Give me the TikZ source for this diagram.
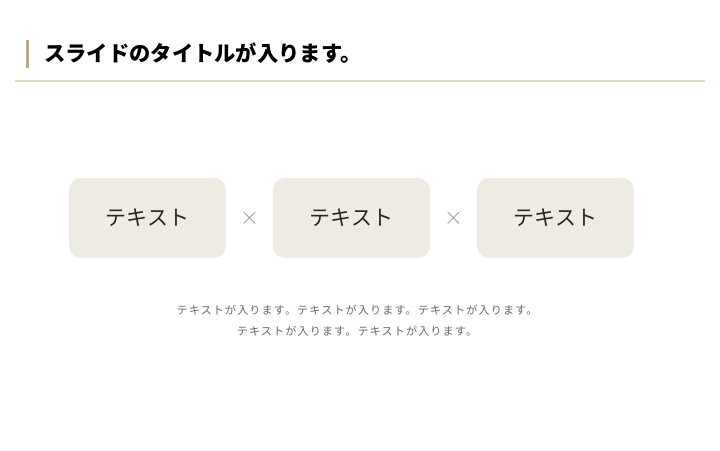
\documentclass[tikz,border=0pt]{standalone}
\usepackage{fontspec}
\usepackage{xcolor}
\setmainfont{Noto Sans CJK JP}
\newfontfamily\jpfont{Noto Sans CJK JP}
\newfontfamily\jpnote[LetterSpace=10]{Noto Sans CJK JP}
\definecolor{barTan}{HTML}{B9AB8C}
\definecolor{ruleBeige}{HTML}{DDD8C8}
\definecolor{boxFill}{HTML}{EEEBE3}
\definecolor{crossGray}{HTML}{9A9A9A}
\definecolor{noteGray}{HTML}{666666}

\begin{document}
\begin{tikzpicture}[x=1pt,y=1pt,node distance=102pt,
    item/.style={rectangle,rounded corners=12pt,fill=boxFill,minimum width=157pt,
      minimum height=80pt,inner sep=0pt,font=\jpfont\fontsize{21}{25}\selectfont,text=black!85},
    times/.style={inner sep=0pt,font=\fontsize{30}{30}\selectfont,text=crossGray}]
  \useasboundingbox[fill=white] (0,0) rectangle (720,-450);

  % title
  \fill[barTan] (26,-40) rectangle (29,-68);
  \node[anchor=west,inner sep=0pt,font=\jpfont\bfseries\fontsize{21.3}{25}\selectfont] (title) at (44,-53) {スライドのタイトルが入ります。};
  \draw[ruleBeige,line width=1.8pt] (15,-81) -- (705,-81);

  % boxes
  \node[item]  (A)                 at (147.5,-218) {テキスト};
  \node[times] (X1) [right of=A]   {$\times$};
  \node[item]  (B)  [right of=X1]  {テキスト};
  \node[times] (X2) [right of=B]   {$\times$};
  \node[item]  (C)  [right of=X2]  {テキスト};

  % note
  \node[align=center,text=noteGray,font=\jpnote\fontsize{11.1}{21}\selectfont] (note) at (357,-321)
    {テキストが入ります。テキストが入ります。テキストが入ります。\\テキストが入ります。テキストが入ります。};
\end{tikzpicture}
\end{document}
